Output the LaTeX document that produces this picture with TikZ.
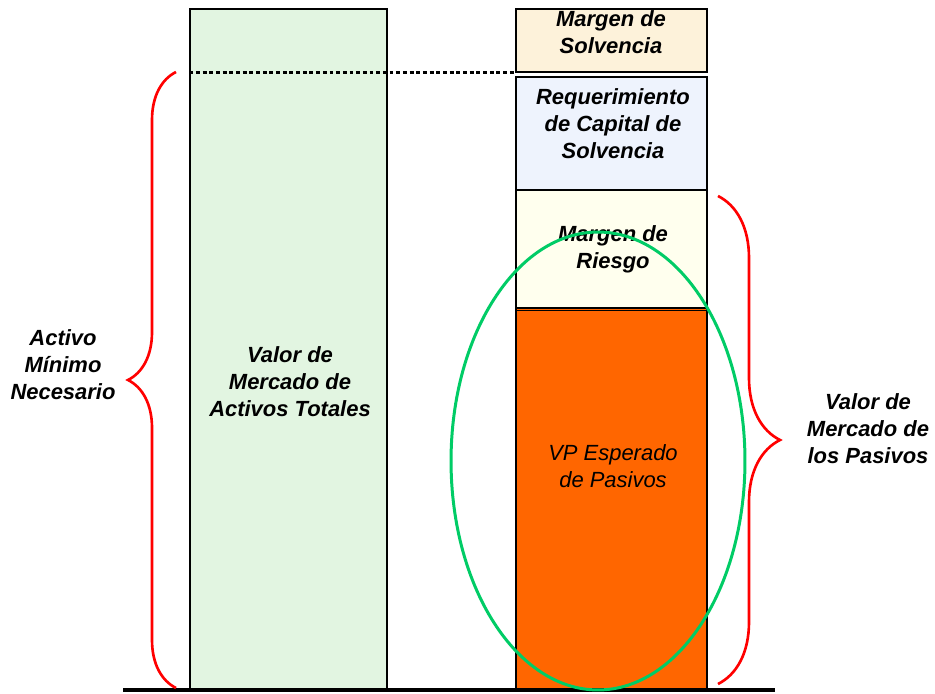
\documentclass[tikz,border=0pt]{standalone}
\usepackage{fontspec}
\setmainfont{Liberation Sans}
\usetikzlibrary{shapes.geometric,decorations.pathreplacing}

\definecolor{activogreen}{HTML}{E2F5E1}
\definecolor{solvcream}{HTML}{FDF2DA}
\definecolor{reqblue}{HTML}{EEF3FD}
\definecolor{riesgoyellow}{HTML}{FFFFEE}
\definecolor{vporange}{HTML}{FF6600}
\definecolor{ovalgreen}{HTML}{00CC66}

\begin{document}
\begin{tikzpicture}
      [x=0.02cm,y=0.02cm,%%%%%%%%%%%%%%%%%%%%%%%%%%%%%%
      box/.style={rectangle,draw=black,line width=0.8pt,inner sep=0pt},
      lbl/.style={align=center,font=\fontsize{12.5}{15.3}\selectfont\bfseries\itshape},
      curly/.style={draw=red,line width=1.5pt,decorate,decoration={brace,amplitude=#1}},
      ]%%%%%%%%%%%%%%%%%%%%%%%%%%%%%%
      \useasboundingbox[fill=white] (0,0) rectangle (935,693);

      % columna de activos
      \node[box,fill=activogreen,minimum width=3.94cm,minimum height=13.62cm] (activos) at (288.5,343.5){};
      \node[lbl] (activostxt) at (290,311){Valor de\\Mercado de\\Activos Totales};

      % columna de pasivos
      \node[box,fill=solvcream,minimum width=3.82cm,minimum height=1.26cm] (solv) at (611.5,652.5){};
      \node[box,fill=reqblue,minimum width=3.82cm,minimum height=2.26cm] (req) at (611.5,559.5){};
      \node[box,fill=riesgoyellow,minimum width=3.82cm,minimum height=2.36cm] (riesgo) at (611.5,444){};
      \node[box,fill=vporange,minimum width=3.82cm,minimum height=7.64cm] (vp) at (611.5,194){};
      \draw[line width=0.7pt] (vp.north west) ++(0,-3.5) coordinate (vpa) -- (vpa -| vp.east);

      \node[lbl] (solvtxt) at (611,661){Margen de\\Solvencia};
      \node[lbl] (reqtxt) at (613,569){Requerimiento\\de Capital de\\Solvencia};
      \node[lbl] (riesgotxt) at (613,444){Margen de\\Riesgo};
      \node[lbl,font=\fontsize{12.5}{15.3}\selectfont\itshape] (vptxt) at (613,227){VP Esperado\\de Pasivos};

      % linea base y punteada
      \coordinate (base1) at (123,3);
      \coordinate (base2) at (775,3);
      \draw[line width=2.3pt] (base1) -- (base2);
      \draw[line width=1.7pt,dash pattern=on 2.2pt off 1.6pt] (activos.west |- solv.south) -- (solv.south west);

      % ovalo
      \node[ellipse,draw=ovalgreen,line width=1.7pt,inner sep=0pt,minimum width=5.88cm,minimum height=9.16cm] (oval) at (598,232){};

      % llaves
      \coordinate (lbot) at (176,5);
      \coordinate (ltop) at (176,621);
      \draw[curly=0.96cm] (lbot) -- (ltop);
      \node[lbl] (activomin) at (63,328){Activo\\Mínimo\\Necesario};

      \coordinate (rtop) at (718,497);
      \coordinate (rbot) at (718,9);
      \draw[curly=1.24cm] (rtop) -- (rbot);
      \node[lbl] (pasivos) at (868,264){Valor de\\Mercado de\\los Pasivos};
    \end{tikzpicture}
\end{document}
